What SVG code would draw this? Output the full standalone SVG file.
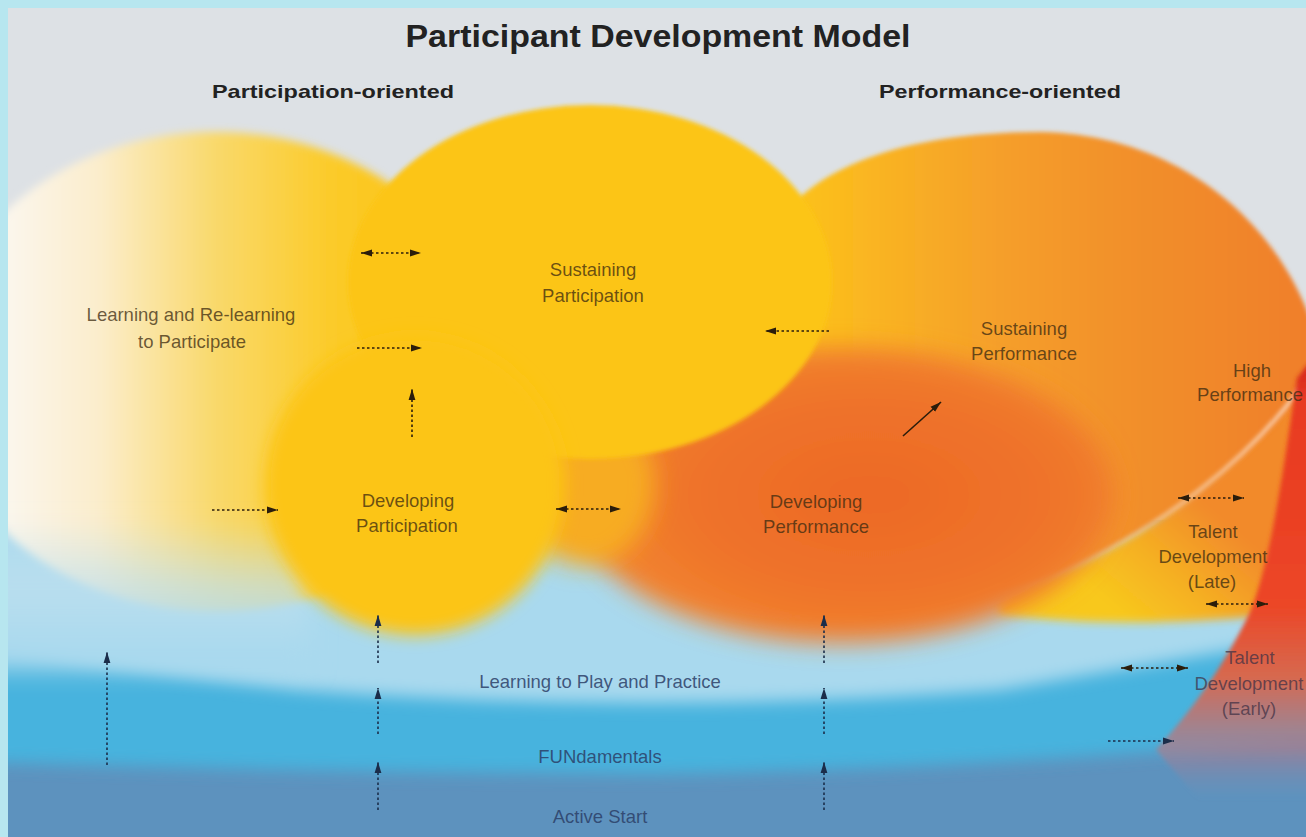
<svg xmlns="http://www.w3.org/2000/svg" width="1306" height="837" viewBox="0 0 1306 837">
  <style>
    .lbl{font-family:"Liberation Sans",Arial,sans-serif;font-size:18.5px;text-anchor:middle;fill:#3b2a10;fill-opacity:.75}
    .lblb{font-family:"Liberation Sans",Arial,sans-serif;font-size:18.5px;text-anchor:middle;fill:#2c4068;fill-opacity:.85}
    .lblr{font-family:"Liberation Sans",Arial,sans-serif;font-size:18.5px;text-anchor:middle;fill:#3e3044;fill-opacity:.72}
    .title{font-family:"Liberation Sans",Arial,sans-serif;font-weight:bold;text-anchor:middle;fill:#222}
    .ar{fill:none;stroke:#2b1d0b;stroke-width:1.6;stroke-dasharray:2.5 2.5}
    .arb{fill:none;stroke:#1b2d4a;stroke-width:1.6;stroke-dasharray:2.5 2.5}
  </style>
  <defs>
    <clipPath id="inner"><rect x="8" y="8" width="1298" height="829"/></clipPath>
    <marker id="h" viewBox="0 0 11 8" refX="11" refY="4" markerWidth="11" markerHeight="8" markerUnits="userSpaceOnUse" orient="auto-start-reverse">
      <path d="M0,0.6 L11,4 L0,7.4 Z" fill="#2b1d0b"/>
    </marker>
    <marker id="hb" viewBox="0 0 11 8" refX="11" refY="4" markerWidth="11" markerHeight="8" markerUnits="userSpaceOnUse" orient="auto-start-reverse">
      <path d="M0,0.6 L11,4 L0,7.4 Z" fill="#1b2d4a"/>
    </marker>
    <filter id="b2" x="-20%" y="-20%" width="140%" height="140%"><feGaussianBlur stdDeviation="2"/></filter>
    <filter id="b4" x="-20%" y="-20%" width="140%" height="140%"><feGaussianBlur stdDeviation="4"/></filter>
    <filter id="b8" x="-20%" y="-20%" width="140%" height="140%"><feGaussianBlur stdDeviation="8"/></filter>
    <filter id="b12" x="-30%" y="-30%" width="160%" height="160%"><feGaussianBlur stdDeviation="12"/></filter>
    <filter id="b20" x="-40%" y="-40%" width="180%" height="180%"><feGaussianBlur stdDeviation="20"/></filter>
    <linearGradient id="gLeft" gradientUnits="userSpaceOnUse" x1="8" y1="0" x2="420" y2="0">
      <stop offset="0" stop-color="#fbf6ec"/>
      <stop offset="0.22" stop-color="#fbedcc"/>
      <stop offset="0.5" stop-color="#f9d96c"/>
      <stop offset="0.78" stop-color="#fbcb2a"/>
      <stop offset="1" stop-color="#fcc418"/>
    </linearGradient>
    <linearGradient id="gRight" gradientUnits="userSpaceOnUse" x1="790" y1="0" x2="1306" y2="0">
      <stop offset="0" stop-color="#fcc31a"/>
      <stop offset="0.2" stop-color="#f9b123"/>
      <stop offset="0.42" stop-color="#f59e2b"/>
      <stop offset="0.65" stop-color="#f2902c"/>
      <stop offset="1" stop-color="#f07f2a"/>
    </linearGradient>
    <radialGradient id="gDevPerf" cx="0.55" cy="0.5" r="0.55">
      <stop offset="0" stop-color="#ec6926"/>
      <stop offset="0.6" stop-color="#ef732a"/>
      <stop offset="1" stop-color="#f28730"/>
    </radialGradient>
    <linearGradient id="gLate" gradientUnits="userSpaceOnUse" x1="1200" y1="500" x2="1110" y2="605">
      <stop offset="0" stop-color="#f28a2c"/>
      <stop offset="0.55" stop-color="#f5b022"/>
      <stop offset="1" stop-color="#f8c81e"/>
    </linearGradient>
    <linearGradient id="gRed" gradientUnits="userSpaceOnUse" x1="0" y1="365" x2="0" y2="800">
      <stop offset="0" stop-color="#d4261b"/>
      <stop offset="0.08" stop-color="#e83a22"/>
      <stop offset="0.55" stop-color="#ec4626"/>
      <stop offset="0.72" stop-color="#d66a50"/>
      <stop offset="0.88" stop-color="#b07a88" stop-opacity="0.7"/>
      <stop offset="1" stop-color="#7b8db5" stop-opacity="0"/>
    </linearGradient>
    <linearGradient id="gStreak" gradientUnits="userSpaceOnUse" x1="1300" y1="390" x2="1010" y2="600">
      <stop offset="0" stop-color="#fde6d6" stop-opacity="0.95"/>
      <stop offset="0.5" stop-color="#fbd2a8" stop-opacity="0.6"/>
      <stop offset="1" stop-color="#fbe0a0" stop-opacity="0.2"/>
    </linearGradient>
    <linearGradient id="gHaze" gradientUnits="userSpaceOnUse" x1="0" y1="520" x2="0" y2="650">
      <stop offset="0" stop-color="#c6e3ee" stop-opacity="0"/>
      <stop offset="0.5" stop-color="#c0e0ee" stop-opacity="0.7"/>
      <stop offset="1" stop-color="#a9d9ee" stop-opacity="1"/>
    </linearGradient>
  </defs>

  <!-- frame and background -->
  <rect x="0" y="0" width="1306" height="837" fill="#b7e6ef"/>
  <rect x="8" y="8" width="1298" height="829" fill="#dde1e5"/>

  <g clip-path="url(#inner)">
    <!-- blue bands -->
    <g id="bands">
      <rect x="0" y="520" width="1306" height="317" fill="#5d92be"/>
      <path d="M-20,590 L1320,590 L1320,738 Q1000,768 650,774 Q300,772 -20,762 Z" fill="#47b3de" filter="url(#b8)"/>
      <path d="M-20,520 L1320,520 L1320,636 Q1150,664 1000,690 Q650,716 300,690 Q100,668 -20,646 Z" fill="#a9d9ee" filter="url(#b8)"/>
    </g>

    <!-- coloured regions -->
    <g id="regions">
      <ellipse cx="215" cy="372" rx="282" ry="240" fill="url(#gLeft)" filter="url(#b4)"/>
      <rect x="-20" y="520" width="330" height="150" fill="url(#gHaze)" filter="url(#b12)"/>
      <path d="M1306,360 C1260,450 1160,530 1060,572 C1020,588 990,600 1000,614 C1080,626 1180,624 1262,616 L1306,560 Z" fill="url(#gLate)" filter="url(#b4)"/>
      <path d="M760,470 L768,240 C800,168 905,132 1040,132 C1170,134 1270,212 1310,318 L1310,384 C1260,452 1160,530 1060,572 C1000,598 900,600 780,560 Z" fill="url(#gRight)" filter="url(#b2)"/>
      <path d="M1302,386 C1250,458 1160,530 1060,572 C1030,585 1010,595 1000,606" fill="none" stroke="url(#gStreak)" stroke-width="3.5" filter="url(#b2)"/>
      <ellipse cx="842" cy="495" rx="272" ry="148" fill="url(#gDevPerf)" filter="url(#b12)"/>
      <ellipse cx="585" cy="485" rx="70" ry="80" fill="#f7ac22" filter="url(#b12)"/>
      <ellipse cx="590" cy="282" rx="242" ry="177" fill="#fcc515" filter="url(#b2)"/>
      <circle cx="415" cy="485" r="150" fill="#fcc516" filter="url(#b8)"/>
      <path d="M1310,362 L1297,378 C1286,450 1272,560 1250,612 C1222,670 1190,712 1156,750 L1200,800 L1310,805 Z" fill="url(#gRed)" filter="url(#b2)"/>
    </g>
  </g>

  <!-- headings -->
  <text class="title" x="658" y="47" font-size="31" textLength="505" lengthAdjust="spacingAndGlyphs">Participant Development Model</text>
  <text class="title" x="333" y="98" font-size="19" textLength="242" lengthAdjust="spacingAndGlyphs">Participation-oriented</text>
  <text class="title" x="1000" y="98" font-size="19" textLength="242" lengthAdjust="spacingAndGlyphs">Performance-oriented</text>

  <!-- nodes -->
  <g id="node-learning-relearning">
    <text class="lbl" x="191" y="321">Learning and Re-learning</text>
    <text class="lbl" x="192" y="348">to Participate</text>
  </g>
  <g id="node-sustaining-participation">
    <text class="lbl" x="593" y="276">Sustaining</text>
    <text class="lbl" x="593" y="302">Participation</text>
  </g>
  <g id="node-sustaining-performance">
    <text class="lbl" x="1024" y="335">Sustaining</text>
    <text class="lbl" x="1024" y="360">Performance</text>
  </g>
  <g id="node-high-performance">
    <text class="lbl" x="1252" y="377">High</text>
    <text class="lbl" x="1250" y="401" font-size="18">Performance</text>
  </g>
  <g id="node-developing-participation">
    <text class="lbl" x="408" y="507">Developing</text>
    <text class="lbl" x="407" y="532">Participation</text>
  </g>
  <g id="node-developing-performance">
    <text class="lbl" x="816" y="508">Developing</text>
    <text class="lbl" x="816" y="533">Performance</text>
  </g>
  <g id="node-talent-late">
    <text class="lbl" x="1213" y="538">Talent</text>
    <text class="lbl" x="1213" y="563">Development</text>
    <text class="lbl" x="1212" y="588">(Late)</text>
  </g>
  <g id="node-talent-early">
    <text class="lblr" x="1250" y="664">Talent</text>
    <text class="lblr" x="1249" y="690" font-size="18">Development</text>
    <text class="lblr" x="1249" y="715">(Early)</text>
  </g>
  <g id="node-learning-to-play">
    <text class="lblb" x="600" y="688">Learning to Play and Practice</text>
  </g>
  <g id="node-fundamentals">
    <text class="lblb" x="600" y="763">FUNdamentals</text>
  </g>
  <g id="node-active-start">
    <text class="lblb" x="600" y="823">Active Start</text>
  </g>

  <!-- connectors -->
  <g id="connectors">
    <line class="ar" x1="361" y1="253" x2="421" y2="253" marker-start="url(#h)" marker-end="url(#h)"/>
    <line class="ar" x1="357" y1="348" x2="422" y2="348" marker-end="url(#h)"/>
    <line class="ar" x1="412" y1="437" x2="412" y2="389" marker-end="url(#h)"/>
    <line class="ar" x1="829" y1="331" x2="765" y2="331" marker-end="url(#h)"/>
    <line class="ar" x1="903" y1="436" x2="941" y2="402" marker-end="url(#h)" style="stroke-dasharray:none"/>
    <line class="ar" x1="212" y1="510" x2="278" y2="510" marker-end="url(#h)"/>
    <line class="ar" x1="556" y1="509" x2="621" y2="509" marker-start="url(#h)" marker-end="url(#h)"/>
    <line class="ar" x1="1178" y1="498" x2="1244" y2="498" marker-start="url(#h)" marker-end="url(#h)"/>
    <line class="ar" x1="1206" y1="604" x2="1268" y2="604" marker-start="url(#h)" marker-end="url(#h)"/>
    <line class="ar" x1="1121" y1="668" x2="1188" y2="668" marker-start="url(#h)" marker-end="url(#h)"/>
    <line class="arb" x1="1108" y1="741" x2="1174" y2="741" marker-end="url(#hb)"/>
    <line class="arb" x1="378" y1="663" x2="378" y2="615" marker-end="url(#hb)"/>
    <line class="arb" x1="378" y1="734" x2="378" y2="688" marker-end="url(#hb)"/>
    <line class="arb" x1="378" y1="810" x2="378" y2="762" marker-end="url(#hb)"/>
    <line class="arb" x1="824" y1="663" x2="824" y2="615" marker-end="url(#hb)"/>
    <line class="arb" x1="824" y1="734" x2="824" y2="688" marker-end="url(#hb)"/>
    <line class="arb" x1="824" y1="810" x2="824" y2="762" marker-end="url(#hb)"/>
    <line class="arb" x1="107" y1="765" x2="107" y2="652" marker-end="url(#hb)"/>
  </g>
</svg>
